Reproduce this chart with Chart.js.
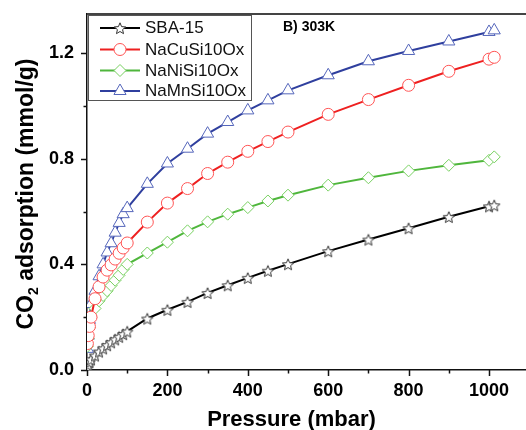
<!DOCTYPE html>
<html><head><meta charset="utf-8">
<script src="https://cdn.jsdelivr.net/npm/chart.js@4.4.1/dist/chart.umd.min.js"></script>
<style>html,body{margin:0;padding:0;background:#fff;}#wrap{width:526px;height:430px;position:relative;}</style>
</head><body><div id="wrap"><canvas id="c" width="526" height="430"></canvas></div>
<script>
// ---- data ----
const pressure = [1, 3, 6, 10, 20, 30, 40, 50, 60, 70, 80, 90, 100, 150, 200, 250, 300, 350, 400, 450, 500, 600, 700, 800, 900, 1000, 1013];
const sba15    = [0.01, 0.02, 0.03, 0.04, 0.055, 0.07, 0.082, 0.094, 0.105, 0.116, 0.126, 0.136, 0.146, 0.195, 0.228, 0.258, 0.292, 0.321, 0.349, 0.376, 0.401, 0.450, 0.494, 0.537, 0.580, 0.620, 0.624];
const nacu     = [0.10, 0.13, 0.165, 0.20, 0.27, 0.315, 0.352, 0.378, 0.398, 0.42, 0.442, 0.462, 0.481, 0.56, 0.632, 0.687, 0.744, 0.787, 0.828, 0.865, 0.901, 0.968, 1.024, 1.078, 1.131, 1.177, 1.184];
const nani     = [0.09, 0.12, 0.16, 0.20, 0.233, 0.262, 0.282, 0.30, 0.32, 0.34, 0.359, 0.381, 0.40, 0.443, 0.484, 0.527, 0.561, 0.59, 0.615, 0.64, 0.662, 0.70, 0.728, 0.754, 0.775, 0.794, 0.807];
const namn     = [0.08, 0.13, 0.19, 0.25, 0.30, 0.355, 0.40, 0.445, 0.48, 0.52, 0.557, 0.59, 0.613, 0.705, 0.782, 0.838, 0.895, 0.939, 0.983, 1.021, 1.059, 1.116, 1.169, 1.208, 1.244, 1.28, 1.286];
const seriesNames = ["SBA-15", "NaCuSi10Ox", "NaNiSi10Ox", "NaMnSi10Ox"];
const xMajorTicks = [0, 200, 400, 600, 800, 1000];
const xMinorTicks = [100, 300, 500, 700, 900];
const yMajorTicks = [0.0, 0.4, 0.8, 1.2];
const yMinorTicks = [0.2, 0.6, 1.0];
const panelLabel = "B) 303K";
const xTitle = "Pressure (mbar)";

const FONT = '"Liberation Sans", Arial, sans-serif';

function makeStar(r, stroke){
  const s = Math.ceil(r*2+4);
  const c = document.createElement('canvas'); c.width = s; c.height = s;
  const g = c.getContext('2d');
  g.translate(s/2, s/2+0.8);
  g.beginPath();
  for (let i=0;i<10;i++){
    const rr = i%2===0 ? r : r*0.45;
    const a = -Math.PI/2 + i*Math.PI/5;
    g.lineTo(rr*Math.cos(a), rr*Math.sin(a));
  }
  g.closePath();
  g.fillStyle = '#fff'; g.fill();
  g.strokeStyle = stroke; g.lineWidth = 1; g.stroke();
  return c;
}
const starImg = makeStar(6, '#333');

const pts = arr => pressure.map((p,i)=>({x:p, y:arr[i]}));

const styles = [
  {line:'#000000', mark:'#333333', style: starImg, r:6},
  {line:'#ee2020', mark:'#ff5555', style:'circle', r:6},
  {line:'#4fb63c', mark:'#77d060', style:'rectRot', r:6},
  {line:'#2f3f9e', mark:'#5566bb', style:'triangle', r:7}
];
const values = [sba15, nacu, nani, namn];

const datasets = values.map((v,i)=>({
  label: seriesNames[i],
  data: pts(v),
  borderColor: styles[i].line,
  borderWidth: 2,
  pointStyle: styles[i].style,
  pointRadius: styles[i].r,
  pointBorderColor: styles[i].mark,
  pointBackgroundColor: '#ffffff',
  pointBorderWidth: 1,
  tension: 0,
  fill: false
}));

function drawMarker(ctx, st, x, y){
  ctx.save();
  ctx.lineWidth = 1; ctx.strokeStyle = st.mark; ctx.fillStyle = '#fff';
  const r = st.r;
  if (st.style === 'circle'){
    ctx.beginPath(); ctx.arc(x,y,r,0,Math.PI*2); ctx.fill(); ctx.stroke();
  } else if (st.style === 'rectRot'){
    ctx.beginPath(); ctx.moveTo(x,y-r); ctx.lineTo(x+r,y); ctx.lineTo(x,y+r); ctx.lineTo(x-r,y); ctx.closePath(); ctx.fill(); ctx.stroke();
  } else if (st.style === 'triangle'){
    ctx.beginPath();
    for (let k=0;k<3;k++){ const a = k*2*Math.PI/3; ctx.lineTo(x + Math.sin(a)*r, y - Math.cos(a)*r); }
    ctx.closePath(); ctx.fill(); ctx.stroke();
  } else {
    ctx.drawImage(st.style, x - st.style.width/2, y - st.style.height/2);
  }
  ctx.restore();
}

const decor = {
  id: 'decor',
  afterDraw(chart){
    const ctx = chart.ctx;
    const xs = chart.scales.x, ys = chart.scales.y, a = chart.chartArea;
    ctx.save();
    // top frame
    ctx.strokeStyle = '#444'; ctx.lineWidth = 2;
    ctx.beginPath(); ctx.moveTo(a.left, a.top); ctx.lineTo(a.right, a.top); ctx.stroke();
    // ticks
    ctx.strokeStyle = '#111'; ctx.lineWidth = 1.5;
    ctx.beginPath();
    xMajorTicks.forEach(v=>{ const px = Math.round(xs.getPixelForValue(v))+0.5; ctx.moveTo(px, a.bottom); ctx.lineTo(px, a.bottom+6); });
    xMinorTicks.forEach(v=>{ const px = Math.round(xs.getPixelForValue(v))+0.5; ctx.moveTo(px, a.bottom); ctx.lineTo(px, a.bottom+3.5); });
    yMajorTicks.forEach(v=>{ const py = Math.round(ys.getPixelForValue(v))+0.5; ctx.moveTo(a.left, py); ctx.lineTo(a.left-6, py); });
    yMinorTicks.forEach(v=>{ const py = Math.round(ys.getPixelForValue(v))+0.5; ctx.moveTo(a.left, py); ctx.lineTo(a.left-3.5, py); });
    ctx.stroke();
    // legend
    ctx.fillStyle = '#fff'; ctx.fillRect(88.5, 15.5, 163, 85);
    ctx.strokeStyle = '#555'; ctx.lineWidth = 1; ctx.strokeRect(88.5, 15.5, 163, 85);
    const ly = [28, 49.5, 70.5, 91];
    seriesNames.forEach((n,i)=>{
      const y = ly[i];
      ctx.strokeStyle = styles[i].line; ctx.lineWidth = 2;
      ctx.beginPath(); ctx.moveTo(100, y); ctx.lineTo(140, y); ctx.stroke();
      drawMarker(ctx, styles[i], 120, y);
      ctx.fillStyle = '#111'; ctx.font = '17px ' + FONT; ctx.textBaseline = 'middle'; ctx.textAlign = 'left';
      ctx.fillText(n, 145, y+0.5);
    });
    // panel label
    ctx.fillStyle = '#000'; ctx.font = 'bold 14px ' + FONT; ctx.textBaseline = 'alphabetic'; ctx.textAlign = 'left';
    ctx.fillText(panelLabel, 283, 30.5);
    // x title
    ctx.font = 'bold 22px ' + FONT; ctx.textAlign = 'center';
    ctx.fillText(xTitle, 291.5, 426);
    // y title with subscript
    ctx.save();
    ctx.translate(33, 194);
    ctx.rotate(-Math.PI/2);
    const big = 'bold 23px ' + FONT, small = 'bold 14px ' + FONT;
    ctx.font = big; const w1 = ctx.measureText('CO').width;
    const rest = ' adsorption (mmol/g)'; const w3 = ctx.measureText(rest).width;
    ctx.font = small; const w2 = ctx.measureText('2').width;
    const total = w1 + w2 + w3;
    let x0 = -total/2;
    ctx.textAlign = 'left';
    ctx.font = big; ctx.fillText('CO', x0, 0);
    ctx.font = small; ctx.fillText('2', x0 + w1, 5);
    ctx.font = big; ctx.fillText(rest, x0 + w1 + w2, 0);
    ctx.restore();
    ctx.restore();
  }
};

new Chart(document.getElementById('c'), {
  type: 'line',
  data: { datasets },
  options: {
    responsive: false, animation: false, devicePixelRatio: 1,
    layout: { autoPadding: false, padding: { top: 14, right: 0, left: 0, bottom: 0 } },
    plugins: { legend: { display: false }, tooltip: { enabled: false }, title: { display: false } },
    scales: {
      x: {
        type: 'linear', min: 0, max: 1092,
        grid: { display: false, drawTicks: false },
        border: { display: true, color: '#111', width: 1.5 },
        afterBuildTicks: s => { s.ticks = xMajorTicks.map(v => ({ value: v })); },
        ticks: { autoSkip: false, maxRotation: 0, minRotation: 0, padding: 10,
          color: '#000', font: { family: FONT, size: 18, weight: 'bold' },
          callback: v => String(Math.round(v)) },
        afterFit: s => { s.height = 60; s.paddingLeft = 0; s.paddingRight = 0; }
      },
      y: {
        type: 'linear', min: 0, max: 1.348,
        grid: { display: false, drawTicks: false },
        border: { display: true, color: '#111', width: 1.5 },
        afterBuildTicks: s => { s.ticks = yMajorTicks.map(v => ({ value: v })); },
        ticks: { autoSkip: false, padding: 13,
          color: '#000', font: { family: FONT, size: 18, weight: 'bold' },
          callback: v => Number(v).toFixed(1) },
        afterFit: s => { s.width = 87; s.paddingTop = 0; s.paddingBottom = 0; }
      }
    }
  },
  plugins: [decor]
});
</script>
</body></html>
